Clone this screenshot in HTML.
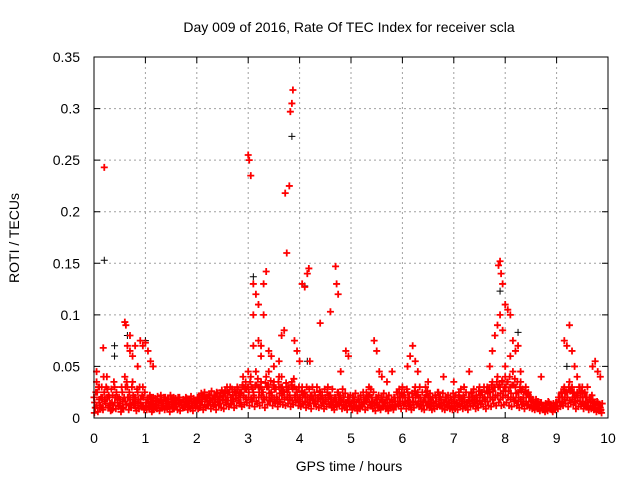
<!DOCTYPE html>
<html><head><meta charset="utf-8"><style>
html,body{margin:0;padding:0;background:#fff;}
svg{display:block;font-family:"Liberation Sans",sans-serif;}
</style></head><body>
<svg id="chart" width="640" height="480" viewBox="0 0 640 480">
<rect width="640" height="480" fill="#fff"/>
<text x="349" y="32" font-size="14" text-anchor="middle">Day 009 of 2016, Rate Of TEC Index for receiver scla</text>
<text x="349" y="471" font-size="14" text-anchor="middle">GPS time / hours</text>
<text x="19" y="238" font-size="14" text-anchor="middle" transform="rotate(-90 19 238)">ROTI / TECUs</text>
<g id="grid"></g>
<g id="marks"></g>
<g id="axes"></g>
</svg>
<script>
const xTicks=[0,1,2,3,4,5,6,7,8,9,10];
const yTicks=[0,0.05,0.1,0.15,0.2,0.25,0.3,0.35];
const yTickLabels=["0","0.05","0.1","0.15","0.2","0.25","0.3","0.35"];
const sampleInterval=0.05;
const baselineA=[.02,.035,.015,.03,.025,.04,.02,.015,.03,.02,.012,.025,.04,.03,.018,.035,.02,.025,.015,.03,
.012,.018,.015,.02,.01,.016,.022,.014,.012,.018,.015,.02,.013,.017,.012,.015,.019,.014,.016,.012,
.015,.02,.018,.025,.016,.022,.019,.015,.024,.02,.017,.026,.02,.03,.022,.025,.028,.02,.03,.035,
.03,.04,.025,.045,.03,.035,.02,.04,.03,.025,.035,.02,.03,.04,.025,.03,.02,.035,.03,.025,
.02,.03,.025,.02,.018,.03,.022,.02,.025,.018,.02,.03,.022,.015,.02,.025,.018,.02,.015,.02,
.015,.02,.012,.018,.015,.02,.025,.03,.02,.015,.018,.012,.02,.015,.018,.012,.015,.02,.025,.02,
.03,.02,.025,.015,.02,.03,.025,.02,.015,.03,.02,.018,.015,.02,.025,.018,.015,.02,.015,.018,
.02,.015,.025,.018,.02,.015,.02,.025,.018,.02,.03,.025,.02,.03,.025,.035,.03,.04,.03,.035,
.04,.035,.03,.045,.03,.025,.035,.02,.03,.025,.02,.015,.018,.012,.015,.01,.012,.015,.01,.012,
.015,.02,.025,.03,.025,.035,.03,.02,.025,.03,.02,.025,.015,.02,.018,.012,.015,.01];
const baselineB=[.01,.006,.012,.008,.014,.01,.007,.012,.009,.011,.006,.01,.013,.008,.01,.012,.007,.009,.011,.008,
.008,.01,.006,.011,.009,.007,.012,.008,.01,.006,.009,.011,.008,.007,.01,.012,.008,.009,.007,.01,
.009,.012,.008,.01,.013,.009,.011,.008,.012,.01,.009,.013,.011,.014,.01,.012,.015,.011,.013,.015,
.012,.016,.011,.014,.012,.015,.01,.013,.016,.012,.014,.011,.015,.013,.012,.014,.011,.013,.015,.012,
.011,.013,.01,.012,.009,.014,.011,.01,.012,.009,.011,.013,.01,.008,.011,.012,.009,.01,.008,.011,
.008,.01,.007,.009,.011,.008,.01,.012,.009,.007,.01,.008,.011,.009,.007,.01,.008,.011,.012,.009,
.012,.009,.011,.008,.01,.013,.011,.009,.008,.012,.01,.008,.009,.011,.012,.009,.008,.01,.009,.008,
.009,.008,.011,.009,.01,.008,.011,.012,.009,.01,.013,.011,.009,.012,.011,.014,.012,.015,.012,.013,
.015,.012,.011,.016,.012,.01,.013,.009,.012,.01,.009,.008,.009,.007,.008,.006,.007,.009,.006,.008,
.009,.011,.012,.014,.011,.015,.013,.009,.011,.013,.009,.011,.008,.009,.008,.006,.007,.005];
const baselineC=[.015,.025,.01,.02,.018,.028,.014,.022,.02,.015,.018,.016,.03,.02,.014,.022,.016,.018,.012,.02,
.015,.012,.02,.014,.016,.012,.018,.02,.016,.013,.018,.015,.017,.02,.015,.012,.016,.018,.012,.015,
.02,.016,.022,.018,.02,.017,.015,.02,.018,.024,.022,.018,.025,.02,.018,.022,.02,.025,.022,.028,
.025,.03,.02,.032,.025,.028,.018,.03,.024,.02,.028,.018,.024,.03,.02,.025,.018,.028,.022,.02,
.016,.022,.02,.015,.022,.018,.016,.02,.018,.015,.016,.022,.018,.012,.016,.02,.015,.016,.012,.016,
.012,.016,.01,.015,.012,.016,.02,.022,.016,.012,.015,.01,.016,.012,.015,.01,.012,.016,.02,.016,
.022,.016,.02,.012,.016,.022,.02,.016,.012,.022,.016,.014,.012,.016,.02,.014,.012,.016,.012,.014,
.016,.012,.02,.014,.016,.012,.016,.02,.014,.016,.022,.02,.016,.024,.02,.026,.022,.03,.024,.026,
.03,.026,.024,.032,.024,.02,.026,.016,.024,.02,.016,.012,.014,.01,.012,.008,.01,.012,.008,.01,
.012,.016,.02,.024,.02,.026,.024,.016,.02,.024,.016,.02,.012,.016,.014,.01,.012,.008];
const baselineD=[.025,.03,.02,.04,.03,.022,.028,.035,.025,.02,.03,.02,.035,.025,.03,.02,.028,.03,.022,.025,
.018,.022,.016,.019,.021,.017,.014,.02,.018,.022,.016,.019,.02,.015,.018,.02,.017,.021,.019,.016,
.02,.024,.021,.019,.023,.026,.022,.025,.021,.027,.024,.03,.025,.028,.026,.03,.024,.032,.028,.03,
.035,.028,.032,.038,.03,.025,.034,.03,.036,.032,.028,.035,.03,.026,.034,.028,.032,.038,.028,.03,
.026,.024,.03,.028,.022,.025,.03,.026,.022,.028,.025,.022,.028,.02,.025,.022,.028,.024,.02,.022,
.02,.024,.018,.022,.025,.018,.022,.028,.025,.02,.022,.018,.024,.02,.022,.018,.02,.025,.028,.024,
.025,.028,.02,.024,.026,.022,.03,.025,.02,.026,.024,.02,.022,.025,.02,.024,.02,.022,.02,.024,
.022,.02,.028,.022,.025,.02,.024,.028,.022,.026,.025,.03,.026,.028,.032,.03,.035,.032,.036,.03,
.035,.04,.032,.038,.035,.03,.028,.025,.024,.02,.018,.014,.016,.015,.012,.014,.016,.012,.014,.015,
.02,.024,.028,.025,.03,.028,.025,.022,.03,.026,.024,.02,.018,.022,.015,.016,.012,.014];
const baselineE=[.005,.012,.018,.01,.016,.02,.012,.008,.015,.018,.014,.009,.016,.02,.012,.015,.01,.014,.018,.012,
.01,.014,.012,.008,.013,.015,.01,.012,.014,.011,.013,.009,.011,.014,.012,.01,.013,.011,.012,.014,
.014,.01,.016,.013,.012,.015,.018,.013,.016,.014,.018,.015,.017,.013,.016,.019,.017,.015,.02,.018,
.02,.018,.022,.016,.02,.022,.018,.02,.017,.022,.018,.02,.016,.022,.018,.02,.022,.017,.02,.018,
.018,.014,.016,.02,.014,.017,.014,.016,.019,.014,.016,.018,.014,.016,.013,.015,.017,.013,.015,.014,
.014,.012,.015,.011,.013,.014,.016,.015,.012,.014,.013,.015,.012,.014,.011,.015,.013,.012,.016,.014,
.016,.014,.017,.013,.015,.016,.014,.013,.016,.015,.013,.012,.014,.016,.013,.012,.015,.013,.014,.012,
.012,.014,.013,.016,.012,.015,.014,.017,.015,.014,.017,.016,.018,.016,.02,.018,.02,.022,.018,.02,
.022,.02,.018,.02,.017,.016,.018,.014,.016,.013,.012,.01,.011,.009,.01,.008,.009,.01,.008,.009,
.012,.015,.016,.018,.02,.017,.018,.015,.017,.016,.014,.012,.011,.012,.01,.009,.008,.007];
const spikeTimes=[0.2,0.18,0.05,0.1,0.6,0.62,0.65,0.7,0.75,0.8,0.9,0.95,1.0,1.05,1.1,1.15,0.85,0.7,
3.0,3.02,3.05,3.1,3.15,3.2,3.1,3.25,3.3,3.35,3.3,3.4,3.45,3.5,3.6,3.7,3.75,3.72,3.8,3.82,3.85,3.87,3.9,3.95,4.0,4.05,4.1,4.15,4.18,4.2,4.4,4.6,4.7,4.72,4.75,4.8,4.9,4.95,3.1,3.2,3.25,3.4,3.6,3.65,3.0,2.9,
5.45,5.5,5.55,5.6,5.7,5.8,6.1,6.15,6.2,6.25,6.3,6.5,6.8,7.0,7.2,7.3,7.5,
7.8,7.85,7.87,7.9,7.92,7.95,7.9,7.95,8.0,8.05,8.1,8.15,8.2,8.25,8.1,8.0,8.3,7.75,7.7,8.7,9.15,9.2,9.25,9.3,9.35,9.4,9.5,9.7,9.75,9.8,9.85,9.6];
const spikeValues=[.243,.068,.045,.03,.093,.09,.07,.065,.06,.07,.075,.07,.073,.065,.055,.05,.05,.08,
.255,.25,.235,.13,.12,.11,.1,.07,.1,.142,.13,.065,.06,.05,.04,.085,.16,.218,.225,.297,.305,.318,.075,.065,.055,.13,.127,.14,.145,.055,.092,.103,.147,.13,.12,.045,.065,.06,.07,.075,.06,.045,.055,.08,.045,.04,
.075,.065,.045,.04,.035,.045,.05,.06,.07,.055,.045,.035,.04,.035,.03,.045,.03,
.08,.09,.148,.152,.14,.13,.1,.085,.11,.105,.1,.075,.065,.07,.06,.05,.045,.065,.05,.04,.075,.07,.09,.065,.05,.04,.03,.05,.055,.045,.04,.03];
const blackTimes=[0.2,3.1,3.85,4.1,7.9,8.25,0.4,0.4,9.2,4.15,3.2,1.0,0.65];
const blackValues=[.153,.137,.273,.128,.123,.083,.07,.06,.05,.055,.075,.075,.08];

const L=94,R=608,T=57,B=418;
const xs=t=>L+(t-0)/(10-0)*(R-L);
const ys=v=>B-(v/0.35)*(B-T);
const NS="http://www.w3.org/2000/svg";
const grid=document.getElementById('grid'),marks=document.getElementById('marks'),axes=document.getElementById('axes');
function mk(tag,attrs,parent){const e=document.createElementNS(NS,tag);for(const k in attrs)e.setAttribute(k,attrs[k]);parent.appendChild(e);return e;}
xTicks.forEach((t,i)=>{const x=xs(t);
 if(i>0&&i<xTicks.length-1){const g=mk('line',{x1:x,x2:x,y1:T,y2:B,stroke:'#a0a0a0','stroke-dasharray':'2,3'},grid);
 
 }
 const tk=mk('path',{d:`M${x},${B}v-6M${x},${T}v6`,stroke:'#000'},axes);
 
 
 const lb=mk('text',{x:x,y:B+25,'font-size':14,'text-anchor':'middle'},axes);lb.textContent=String(t);
 
 
});
yTicks.forEach((v,i)=>{const y=ys(v);
 if(i>0&&i<yTicks.length-1){const g=mk('line',{x1:L,x2:R,y1:y,y2:y,stroke:'#a0a0a0','stroke-dasharray':'2,3'},grid);
 
 }
 const tk=mk('path',{d:`M${L},${y}h6M${R},${y}h-6`,stroke:'#000'},axes);
 
 
 const lb=mk('text',{x:L-14,y:y+5,'font-size':14,'text-anchor':'end'},axes);lb.textContent=yTickLabels[i];
 
 
});
const fr=mk('rect',{x:L,y:T,width:R-L,height:B-T,fill:'none',stroke:'#000'},axes);


function plus(t,v){const x=xs(t),y=ys(v);return `M${x-3.5},${y}h7M${x},${y-3.5}v7`;}
let dRed='';
const offsets=[0,0.025,0.0125,0.0375,0.006];
[baselineA,baselineB,baselineC,baselineD,baselineE].forEach((arr,k)=>{arr.forEach((v,i)=>{dRed+=plus(i*sampleInterval+offsets[k],v);});});
spikeTimes.forEach((t,i)=>{dRed+=plus(t,spikeValues[i]);});
let dBlack='';
blackTimes.forEach((t,i)=>{dBlack+=plus(t,blackValues[i]);});
const pb=mk('path',{d:dBlack,stroke:'#000','stroke-width':1,fill:'none'},marks);


const pr=mk('path',{d:dRed,stroke:'#ff0000','stroke-width':1.8,fill:'none'},marks);


</script>
</body></html>
